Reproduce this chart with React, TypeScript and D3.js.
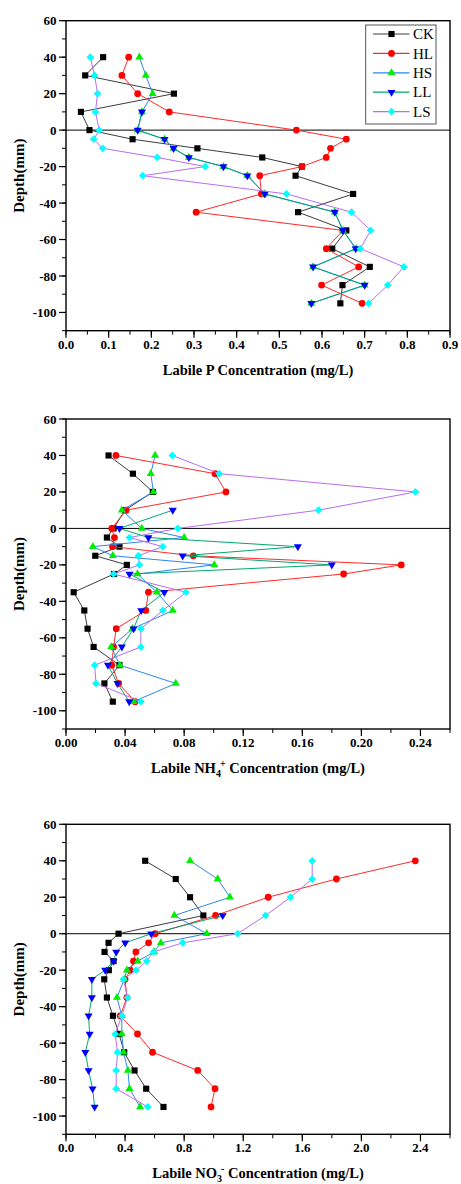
import React from "react";
import * as d3 from "d3";

// sampling depths (mm); LL has no overlying-water points above 10 mm
const depths = [40, 30, 20, 10, 0, -5, -10, -15, -20, -25, -35, -45, -55, -65, -75, -85, -95];
const depthsLL = depths.slice(3);

const seriesNames = ["CK", "HL", "HS", "LL", "LS"];

// Labile P (mg/L)
const pCK = [0.087, 0.045, 0.253, 0.035, 0.055, 0.156, 0.308, 0.46, 0.553, 0.538, 0.673, 0.544, 0.657, 0.624, 0.712, 0.648, 0.643];
const pHL = [0.147, 0.131, 0.168, 0.242, 0.54, 0.657, 0.62, 0.61, 0.553, 0.454, 0.458, 0.305, 0.649, 0.61, 0.686, 0.599, 0.694];
const pHS = [0.172, 0.187, 0.203, 0.178, 0.168, 0.231, 0.252, 0.288, 0.369, 0.425, 0.466, 0.63, 0.649, 0.68, 0.579, 0.7, 0.575];
const pLL = [0.178, 0.168, 0.231, 0.252, 0.288, 0.369, 0.425, 0.466, 0.63, 0.649, 0.679, 0.579, 0.7, 0.575];
const pLS = [0.057, 0.067, 0.074, 0.069, 0.078, 0.065, 0.086, 0.214, 0.326, 0.18, 0.517, 0.669, 0.714, 0.69, 0.792, 0.754, 0.709];

// Labile NH4+ (mg/L)
const nhCK = [0.0288, 0.0453, 0.0588, 0.04, 0.0322, 0.0277, 0.0362, 0.0198, 0.0412, 0.0325, 0.0052, 0.0124, 0.0146, 0.0187, 0.0362, 0.026, 0.0317];
const nhHL = [0.0338, 0.1009, 0.1083, 0.0407, 0.031, 0.0328, 0.0315, 0.0862, 0.227, 0.188, 0.0558, 0.054, 0.034, 0.0322, 0.031, 0.0356, 0.0468];
const nhHS = [0.0603, 0.0574, 0.0592, 0.0378, 0.0513, 0.08, 0.0182, 0.0317, 0.1004, 0.0484, 0.0615, 0.0723, 0.045, 0.0306, 0.0365, 0.0743, 0.0457];
const nhLL = [0.0723, 0.0362, 0.0558, 0.157, 0.079, 0.18, 0.043, 0.0666, 0.0509, 0.0457, 0.0378, 0.0284, 0.0349, 0.0428];
const nhLS = [0.072, 0.1038, 0.2366, 0.171, 0.0757, 0.043, 0.0655, 0.049, 0.0497, 0.0322, 0.0813, 0.0655, 0.0507, 0.0507, 0.0194, 0.0203, 0.0507];

// Labile NO3- (mg/L)
const noCK = [0.536, 0.743, 0.84, 0.93, 0.356, 0.288, 0.261, 0.322, 0.29, 0.259, 0.277, 0.318, 0.36, 0.394, 0.464, 0.543, 0.66];
const noHL = [2.365, 1.831, 1.369, 1.013, 0.604, 0.559, 0.473, 0.457, 0.435, 0.4, 0.412, 0.367, 0.484, 0.586, 0.892, 1.009, 0.982];
const noHS = [0.84, 1.027, 1.11, 0.734, 0.953, 0.642, 0.597, 0.486, 0.412, 0.394, 0.345, 0.378, 0.378, 0.39, 0.419, 0.43, 0.502];
const noLL = [1.061, 0.577, 0.401, 0.34, 0.322, 0.265, 0.175, 0.175, 0.153, 0.16, 0.131, 0.153, 0.18, 0.194];
const noLS = [1.667, 1.667, 1.52, 1.351, 1.162, 0.79, 0.592, 0.547, 0.475, 0.389, 0.417, 0.378, 0.333, 0.349, 0.34, 0.34, 0.554];

const lineColors: Record<string, string> = { CK: "#3c3c3c", HL: "#ff2a2a", HS: "#2f86f0", LL: "#00a870", LS: "#b86ef0" };
const markColors: Record<string, string> = { CK: "#000000", HL: "#ff0000", HS: "#00ee00", LL: "#0000ff", LS: "#00ffff" };

const FONT = "'Liberation Serif', 'Times New Roman', serif";
const left = 66;
const right = 450;
const plotH = 310;

const panels = [
  { top: 20.7, xMax: 0.9, step: 0.1, fmt: ".1f", data: [pCK, pHL, pHS, pLL, pLS], title: "P", legend: true },
  { top: 419, xMax: 0.26, step: 0.04, fmt: ".2f", data: [nhCK, nhHL, nhHS, nhLL, nhLS], title: "NH", legend: false },
  { top: 824.3, xMax: 2.6, step: 0.4, fmt: ".1f", data: [noCK, noHL, noHS, noLL, noLS], title: "NO", legend: false },
];

function symbolPath(name: string) {
  if (name === "CK") return d3.symbol(d3.symbolSquare, 38)();
  if (name === "HL") return d3.symbol(d3.symbolCircle, 36)();
  if (name === "HS" || name === "LL") return d3.symbol(d3.symbolTriangle, 28)();
  return d3.symbol(d3.symbolSquare, 30)();
}

function Marker({ name, x, y }: { name: string; x: number; y: number }) {
  let rot = 0;
  if (name === "LL") rot = 180;
  if (name === "LS") rot = 45;
  return (
    <path
      d={symbolPath(name) || ""}
      transform={`translate(${x},${y}) rotate(${rot})`}
      fill={markColors[name]}
    />
  );
}

function Title({ kind, x, y }: { kind: string; x: number; y: number }) {
  const common = { x, y, textAnchor: "middle" as const, fontFamily: FONT, fontWeight: "bold", fontSize: 14.5, fill: "#000" };
  if (kind === "P") return <text {...common}>Labile P Concentration (mg/L)</text>;
  if (kind === "NH")
    return (
      <text {...common}>
        Labile NH<tspan fontSize={10} dy={4}>4</tspan>
        <tspan fontSize={10} dy={-10} dx={-1}>+</tspan>
        <tspan dy={6}> Concentration (mg/L)</tspan>
      </text>
    );
  return (
    <text {...common}>
      Labile NO<tspan fontSize={10} dy={4}>3</tspan>
      <tspan fontSize={10} dy={-10} dx={-1}>-</tspan>
      <tspan dy={6}> Concentration (mg/L)</tspan>
    </text>
  );
}

function Panel({ p }: { p: (typeof panels)[number] }) {
  const x = d3.scaleLinear().domain([0, p.xMax]).range([left, right]);
  const y = d3.scaleLinear().domain([60, -110]).range([p.top, p.top + plotH]);
  const bottom = p.top + plotH;
  const fmt = d3.format(p.fmt);

  const nMajor = Math.round((p.xMax + 1e-9) / p.step);
  const xMajor = d3.range(0, nMajor + 1).map((i) => i * p.step).filter((v) => v <= p.xMax + 1e-9);
  const xMinor = d3.range(0, nMajor * 2 + 2).map((i) => i * p.step / 2).filter((v) => v <= p.xMax + 1e-9);
  const yMajor = d3.range(60, -101, -20);
  const yMinor = d3.range(60, -111, -10);

  const line = d3
    .line<[number, number]>()
    .x((d) => x(d[0]))
    .y((d) => y(d[1]));

  return (
    <g>
      {/* ticks */}
      {yMinor.map((v) => (
        <line key={"ym" + v} x1={left - 4} x2={left} y1={y(v)} y2={y(v)} stroke="#000" strokeWidth={1} />
      ))}
      {yMajor.map((v) => (
        <g key={"yM" + v}>
          <line x1={left - 7} x2={left} y1={y(v)} y2={y(v)} stroke="#000" strokeWidth={1.2} />
          <text x={56.5} y={y(v)} dy="0.35em" textAnchor="end" fontFamily={FONT} fontWeight="bold" fontSize={13}>
            {v}
          </text>
        </g>
      ))}
      {xMinor.map((v) => (
        <line key={"xm" + v} x1={x(v)} x2={x(v)} y1={bottom} y2={bottom + 4} stroke="#000" strokeWidth={1} />
      ))}
      {xMajor.map((v) => (
        <g key={"xM" + v}>
          <line x1={x(v)} x2={x(v)} y1={bottom} y2={bottom + 7} stroke="#000" strokeWidth={1.2} />
          <text x={x(v)} y={bottom + 18} textAnchor="middle" fontFamily={FONT} fontWeight="bold" fontSize={13}>
            {fmt(v)}
          </text>
        </g>
      ))}

      {/* zero line */}
      <line x1={left} x2={right} y1={y(0)} y2={y(0)} stroke="#000" strokeWidth={1} />

      {/* series */}
      {seriesNames.map((name, si) => {
        const dep = name === "LL" ? depthsLL : depths;
        const pts: [number, number][] = p.data[si].map((v, i) => [v, dep[i]]);
        return (
          <g key={name}>
            <path d={line(pts) || ""} fill="none" stroke={lineColors[name]} strokeWidth={1} />
            {pts.map((d, i) => (
              <Marker key={i} name={name} x={x(d[0])} y={y(d[1])} />
            ))}
          </g>
        );
      })}

      {/* frame */}
      <rect x={left} y={p.top} width={right - left} height={plotH} fill="none" stroke="#000" strokeWidth={1.4} />

      {/* axis titles */}
      <text
        transform={`translate(19,${p.top + plotH / 2}) rotate(-90)`}
        textAnchor="middle"
        dy="0.35em"
        fontFamily={FONT}
        fontWeight="bold"
        fontSize={15}
      >
        Depth(mm)
      </text>
      <Title kind={p.title} x={(left + right) / 2} y={bottom + 44} />

      {p.legend && (
        <g>
          <rect x={365.7} y={25} width={70.3} height={99} fill="#fff" stroke="#555" strokeWidth={1} />
          {seriesNames.map((name, i) => {
            const ly = 34 + i * 19.4;
            return (
              <g key={"lg" + name}>
                <line x1={373} x2={409.5} y1={ly} y2={ly} stroke={lineColors[name]} strokeWidth={1.2} />
                <Marker name={name} x={391.5} y={ly} />
                <text x={413} y={ly} dy="0.35em" fontFamily={FONT} fontSize={15}>
                  {name}
                </text>
              </g>
            );
          })}
        </g>
      )}
    </g>
  );
}

export default function App() {
  return (
    <svg
      width={461}
      height={1184}
      style={{ position: "absolute", left: 0, top: 0, background: "#fff" }}
    >
      <rect width={461} height={1184} fill="#fff" />
      {panels.map((p) => (
        <Panel key={p.title} p={p} />
      ))}
    </svg>
  );
}
